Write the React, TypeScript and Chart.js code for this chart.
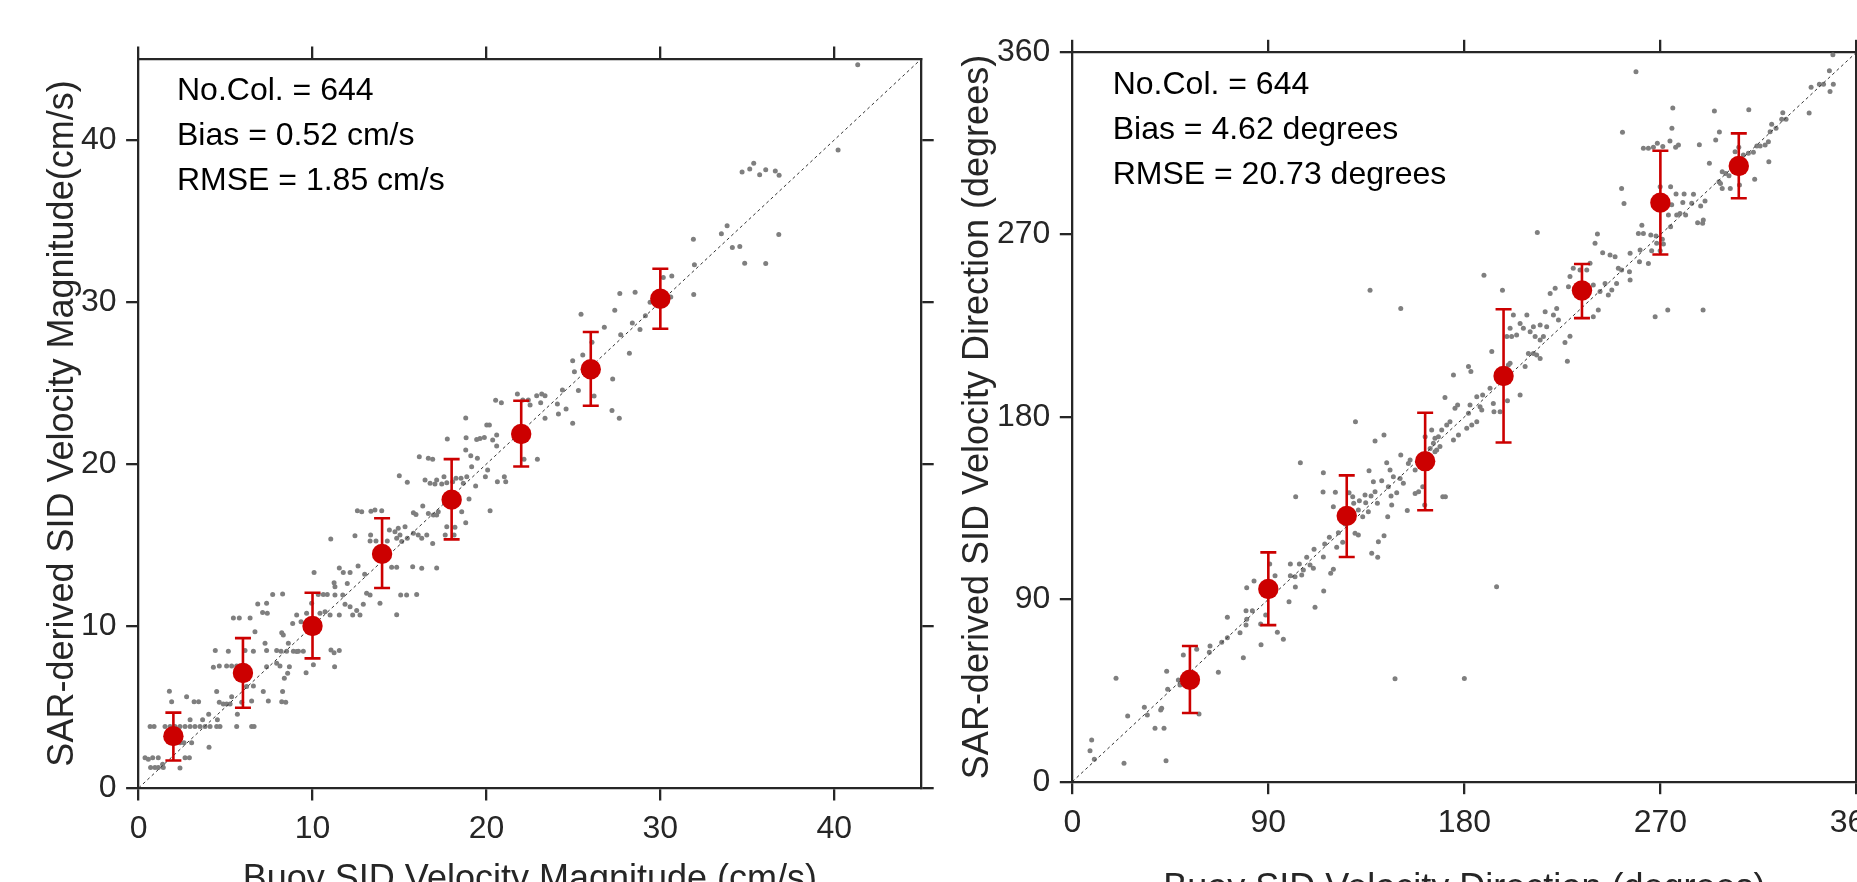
import React, { useEffect, useRef } from "react";
import { Chart, registerables } from "chart.js";

Chart.register(...registerables);

const FONT = '"Liberation Sans", Arial, Helvetica, sans-serif';
const AXIS_COLOR = "#262626";
const RED = "#CC0000";
const GRAY = "#7F7F7F";

// ---------- Panel 1: velocity magnitude ----------
const MAG_RANGE = [0, 45];
const MAG_TICKS = [0, 10, 20, 30, 40];
const MAG_X_TITLE = "Buoy SID Velocity Magnitude (cm/s)";
const MAG_Y_TITLE = "SAR-derived SID Velocity Magnitude(cm/s)";
const MAG_STATS = ["No.Col. = 644", "Bias = 0.52 cm/s", "RMSE = 1.85 cm/s"];

const MAG_BIN_X = [2, 6, 10, 14, 18, 22, 26, 30];
const MAG_BIN_MEAN = [3.2, 7.1, 10.0, 14.45, 17.8, 21.85, 25.85, 30.2];
const MAG_BIN_LOW = [1.7, 4.95, 8.0, 12.35, 15.35, 19.85, 23.6, 28.35];
const MAG_BIN_HIGH = [4.65, 9.25, 12.05, 16.65, 20.3, 23.9, 28.15, 32.05];

// [buoy, SAR] pairs
const MAG_SCATTER: number[][] = [
  [0.37,1.87],[0.56,1.77],[0.81,1.87],[1.13,1.87],[0.69,1.26],[0.94,1.26],[1.13,1.26],[1.42,1.26],[1.38,1.46],[2.38,1.23],
  [2.67,1.87],[2.92,1.87],[2.38,2.8],[2.61,2.8],[3.05,2.8],[4.05,2.51],[0.66,3.79],[0.89,3.79],[1.52,3.79],[1.81,3.79],
  [2.09,3.79],[2.38,3.79],[2.67,3.79],[2.96,3.79],[3.24,3.79],[3.53,3.79],[3.82,3.79],[4.11,3.79],[4.49,3.79],[4.68,3.79],
  [5.64,3.79],[6.5,3.79],[6.64,3.79],[2.96,4.22],[3.68,4.22],[4.03,4.55],[4.53,4.22],[1.77,5.97],[1.9,5.33],[2.76,5.64],
  [3.19,5.33],[3.45,5.33],[4.49,5.95],[4.64,5.29],[4.87,5.19],[5.06,5.19],[5.26,5.19],[5.35,5.64],[5.68,4.55],[5.93,5.29],
  [6.5,5.37],[7.17,5.95],[7.46,5.37],[8.23,5.33],[8.46,5.29],[8.28,5.95],[4.3,7.45],[4.64,7.53],[5.06,7.53],[5.35,7.53],
  [5.64,7.53],[6.06,7.53],[6.21,6.26],[6.6,6.3],[4.41,8.48],[5.16,8.44],[6.12,8.48],[6.6,8.44],[7.27,8.93],[7.36,8.48],
  [7.94,8.48],[8.19,8.44],[8.51,8.44],[8.9,8.44],[9.19,8.44],[9.47,8.44],[6.69,9.65],[8.23,9.59],[8.32,9.44],[8.61,8.93],
  [7.36,7.49],[7.94,7.7],[8.13,7.53],[8.38,6.77],[8.57,7.08],[8.67,7.49],[9.09,8.42],[9.63,7.12],[10.05,7.61],[11.06,8.52],
  [11.24,8.35],[11.54,8.48],[11.27,7.49],[5.45,10.49],[5.79,10.49],[6.41,10.49],[6.85,11.36],[7.36,11.4],[7.13,10.84],[7.4,10.78],
  [7.71,11.95],[8.28,11.98],[8.86,10.16],[9.09,10.68],[9.34,10.27],[9.66,10.78],[10.09,13.31],[9.95,11.4],[10.33,11.95],[10.62,11.95],
  [10.85,11.95],[10.43,10.78],[10.72,10.88],[11.01,10.68],[11.29,11.91],[11.54,10.68],[11.29,12.43],[11.24,12.67],[11.54,13.58],[11.77,13.31],
  [12.16,13.31],[12.0,12.63],[11.74,11.91],[11.87,11.34],[12.16,11.19],[12.31,10.68],[12.54,10.95],[12.62,13.7],[12.73,10.68],[12.92,11.34],
  [13.0,13.19],[13.11,12.02],[13.31,11.91],[13.88,11.4],[14.55,13.62],[14.84,13.62],[14.84,10.7],[15.07,11.91],[15.41,11.91],[15.99,11.95],
  [15.76,13.66],[16.28,13.56],[17.14,13.58],
  [11.05,15.37],[12.44,15.57],[12.58,17.12],[12.83,17.06],[13.36,17.08],[13.59,17.16],[13.98,17.12],[13.34,15.62],[13.31,15.25],[13.65,15.25],
  [14.3,15.25],[14.42,15.93],[14.74,15.82],[14.93,16.03],[14.84,15.41],[15.13,15.21],[15.32,16.13],[15.45,15.41],[15.03,15.62],[15.8,15.72],
  [16.08,15.62],[16.28,15.41],[16.57,15.62],[16.91,15.1],[15.8,16.99],[15.95,16.89],[16.34,17.41],[16.66,16.95],[16.95,16.85],[17.14,16.85],
  [17.23,17.06],[14.99,19.28],[15.45,18.87],[16.14,20.45],[16.66,20.35],[16.91,20.29],[16.47,19.01],[16.76,18.81],[17.04,18.77],[17.14,19.01],
  [17.43,18.77],[17.56,19.22],[17.72,18.85],[18.06,18.91],[18.25,19.12],[18.54,19.12],[18.67,18.81],[18.87,19.22],[19.0,17.84],[18.58,17.06],
  [18.81,16.38],[18.19,16.09],[17.72,16.13],[17.63,15.62],[18.14,15.62],[17.75,21.54],[18.83,21.62],[19.44,21.52],[19.63,21.58],[19.88,21.64],
  [20.36,21.48],[20.59,21.79],[20.59,21.11],[18.81,20.86],[19.1,20.51],[19.48,20.35],[19.15,19.83],[19.38,18.64],[19.94,19.22],[20.07,19.63],
  [20.21,17.12],[20.63,18.91],[21.03,19.22],[21.11,18.91],[18.81,22.84],[20.02,22.41],[20.17,22.41],[20.53,23.93],[20.86,23.78],[21.78,24.32],
  [22.09,23.95],[22.41,23.95],[22.51,23.64],[22.89,24.22],[23.18,24.32],[23.37,24.22],[23.12,23.78],[23.37,22.82],[24.08,23.7],[24.37,24.57],
  [24.58,23.4],[24.14,23.09],[24.96,22.51],[22.16,20.29],[22.93,20.29],[24.96,26.38],[25.06,25.7],[25.54,26.73],[25.29,24.53],[26.07,27.51],
  [26.19,24.2],[27.26,25.25],[27.22,23.31],[27.64,22.82],
  [41.35,44.65],[40.22,39.38],[34.7,38.02],[35.14,38.21],[35.37,38.56],[35.71,37.86],[36.06,38.17],[36.61,38.09],[36.83,37.82],[31.9,33.87],
  [33.51,34.22],[33.84,34.71],[34.14,33.37],[34.57,33.43],[34.85,32.39],[36.06,32.37],[36.81,34.16],[31.96,32.3],[31.92,30.47],[30.17,31.52],
  [30.66,31.6],[30.6,30.31],[29.41,29.98],[29.14,29.15],[28.39,28.7],[28.83,28.31],[28.55,30.6],[27.67,30.52],[27.38,29.49],[25.44,29.24],
  [26.78,28.44],[28.22,26.83],[27.72,27.98]
];

// ---------- Panel 2: velocity direction ----------
const DIR_RANGE = [0, 360];
const DIR_TICKS = [0, 90, 180, 270, 360];
const DIR_X_TITLE = "Buoy SID Velocity Direction (degrees)";
const DIR_Y_TITLE = "SAR-derived SID Velocity Direction (degrees)";
const DIR_STATS = ["No.Col. = 644", "Bias = 4.62 degrees", "RMSE = 20.73 degrees"];

const DIR_BIN_X = [54, 90, 126, 162, 198, 234, 270, 306];
const DIR_BIN_MEAN = [50.3, 95.1, 131.2, 158.2, 200.2, 242.4, 285.8, 303.9];
const DIR_BIN_LOW = [33.9, 77.3, 110.9, 134.0, 167.4, 228.8, 260.2, 288.0];
const DIR_BIN_HIGH = [67.0, 113.2, 151.2, 182.1, 233.2, 255.5, 311.4, 320.0];

const DIR_SCATTER: number[][] = [
  [8.89,20.58],[8.13,15.32],[10.12,11.04],[23.74,9.07],[43.03,10.38],[20.07,51.0],[25.42,32.43],[33.08,36.71],[34.45,32.92],[37.97,26.34],
  [42.11,26.34],[40.58,35.39],[41.03,36.21],[43.33,54.47],[43.79,45.59],[48.69,50.2],[49.45,47.73],[50.98,62.54],[57.11,65.31],[58.18,33.4],
  [63.23,66.96],[62.92,63.83],[67.06,53.96],[68.59,68.77],[71.19,71.07],[71.19,81.11],[77.0,73.54],[78.53,61.2],[79.76,77.33],[80.07,95.76],
  [79.76,84.4],[80.07,80.12],[82.67,84.4],[83.43,99.05],[86.49,77.82],[86.65,67.62],[88.79,82.27],[90.63,107.44],[93.08,101.68],[94.15,73.72],
  [96.9,70.27],[99.5,88.86],[100.12,107.44],[100.12,101.68],[102.26,101.19],[102.41,96.09],[102.56,140.67],[104.25,107.44],[104.71,157.46],[105.32,102.0],
  [106.09,104.47],[107.62,110.72],[109.15,106.94],[110.68,105.29],[110.99,114.67],[111.44,86.05],[115.27,152.53],[115.12,142.98],[115.27,110.88],[115.42,94.1],
  [115.88,117.32],[118.02,120.61],[118.64,102.84],[119.86,104.82],[119.86,135.75],[120.78,142.82],[121.39,115.66],[122.16,122.9],[124.15,118.13],[125.22,127.17],
  [127.06,142.65],[128.74,140.67],[129.2,137.38],[129.81,122.57],[131.34,121.75],[131.8,138.7],[131.34,134.09],[133.33,130.8],[134.4,141.5],[134.71,137.71],
  [135.93,133.26],[136.24,153.51],[137.16,141.01],[137.47,112.71],[138.23,148.08],[139.0,143.14],[140.22,110.72],[140.53,118.45],[140.07,137.38],[142.06,148.57],
  [143.13,121.43],[144.35,157.46],[144.81,130.8],[145.11,145.61],[145.88,153.84],[146.34,141.01],[146.64,136.57],[147.41,150.55],[148.17,50.85],[148.94,142.65],
  [136.7,242.5],[150.8,233.6],[189.0,249.9],[197.5,242.5],[213.5,271.1],[130.0,177.7],[139.0,168.1],[143.1,171.1],[241.1,270.3],[240.0,265.7],
  [243.5,261.1],[246.9,259.9],[249.2,259.1],[250.7,253.4],[249.9,245.9],[247.7,242.7],[246.1,240.2],[244.6,245.9],[242.3,241.9],[239.2,245.2],
  [237.7,255.9],[236.2,252.6],[233.1,252.6],[230.0,253.4],[228.5,249.3],[231.6,240.2],[227.8,244.3],[241.5,232.8],[239.2,229.5],[228.5,219.9],
  [226.2,216.8],[227.3,207.5],[222.4,233.6],[223.2,227.9],[220.9,230.4],[219.4,241.0],[221.7,243.5],[217.8,224.6],[217.1,232.0],[214.8,225.4],
  [214.8,218.0],[216.3,219.7],[211.7,224.6],[212.5,219.7],[210.2,222.1],[208.7,230.4],[207.1,223.8],[205.6,226.2],[202.5,230.4],[201.0,223.8],
  [204.0,220.5],[199.5,219.7],[201.7,219.7],[211.7,211.4],[213.2,210.6],[214.8,208.9],[209.4,211.4],[207.9,204.9],[205.6,190.8],[200.2,205.7],
  [201.0,206.5],[192.6,212.3],[181.9,204.9],[183.0,202.4],[175.0,200.7],[191.8,194.2],[188.4,190.8],[185.7,190.0],[187.2,185.1],[188.0,183.4],
  [185.7,177.7],[182.6,185.9],[181.9,181.8],[181.1,174.4],[183.4,176.0],[193.3,186.7],[193.6,182.6],[196.4,182.6],[199.8,188.0],[176.9,185.9],
  [175.7,184.3],[171.1,189.6],[177.3,171.1],[175.0,168.6],[171.9,176.0],[168.1,170.3],[166.5,169.5],[168.8,165.4],[173.4,177.7],[169.6,173.6],
  [165.8,167.0],[165.0,173.6],[164.3,164.5],[162.0,170.3],[167.3,163.7],[155.1,158.8],[154.3,157.1],[157.4,142.3],[159.0,143.1],[153.8,133.8],
  [170.1,140.7],[171.3,140.7],[166.5,162.9],[150.8,161.2],[160.9,145.6],[161.8,136.6],[152.0,147.3],[150.5,149.7],[157.4,153.8],
  [258.8,350.4],[275.7,332.5],[294.8,331.0],[310.6,331.7],[252.6,320.5],[275.3,322.5],[297.1,320.7],[262.2,312.6],[264.5,312.6],[266.8,313.1],
  [268.6,315.1],[271.1,313.5],[274.4,316.2],[277.0,313.1],[278.3,314.3],[287.9,314.4],[295.4,316.7],[292.5,305.2],[338.3,330.1],[349.2,358.8],
  [347.6,350.9],[349.4,344.2],[347.9,340.7],[344.9,344.2],[343.0,344.2],[339.2,342.7],[326.2,330.2],[327.7,326.9],[325.7,326.9],[323.1,322.5],
  [321.1,324.5],[320.4,320.8],[319.6,315.9],[318.1,314.3],[315.8,313.8],[314.3,313.8],[312.7,310.7],[310.4,310.2],[319.8,306.0],[313.3,297.3],
  [308.1,309.3],[304.3,310.9],[306.0,313.1],[296.9,296.1],[298.4,301.1],[300.0,300.2],[301.5,299.1],[298.4,292.8],[302.1,292.8],[306.3,294.5],
  [297.6,295.3],[269.9,293.7],[252.2,292.8],[253.3,285.4],[274.7,293.7],[277.2,290.1],[280.9,290.1],[285.2,289.9],[280.3,285.9],[284.4,285.5],
  [288.5,284.2],[290.5,286.6],[275.2,284.7],[273.7,279.7],[277.5,279.7],[279.0,280.5],[281.6,279.7],[287.1,275.9],[289.7,277.2],[289.4,275.6],
  [267.6,229.5],[273.4,232.8],[289.6,232.8],[256.1,260.8],[252.2,252.5],[260.4,256.6],[264.5,255.8],[255.8,251.7],[256.1,247.6],[260.7,262.4],
  [262.2,270.6],[261.5,274.7],[265.6,269.8],[266.0,262.1],[268.3,265.7],[270.9,267.7],[269.9,262.1],[271.4,265.4],[268.0,269.3],[274.7,273.9],
  [259.9,270.6],[180.0,50.9],[194.8,96.2]
];

type PanelSpec = {
  scatter: number[][];
  binX: number[];
  binMean: number[];
  binLow: number[];
  binHigh: number[];
  range: number[];
  ticks: number[];
  xTitle: string;
  yTitle: string;
  stats: string[];
  layout: {
    canvasX: number; canvasW: number; canvasH: number;
    leftW: number; topH: number; rightW: number; bottomH: number;
    yTitlePad: number; xTitlePad: number; textDx: number; textDy: number;
  };
};

const PANELS: PanelSpec[] = [
  {
    scatter: MAG_SCATTER, binX: MAG_BIN_X, binMean: MAG_BIN_MEAN, binLow: MAG_BIN_LOW, binHigh: MAG_BIN_HIGH,
    range: MAG_RANGE, ticks: MAG_TICKS, xTitle: MAG_X_TITLE, yTitle: MAG_Y_TITLE, stats: MAG_STATS,
    layout: { canvasX: 0, canvasW: 940, canvasH: 920, leftW: 138.6, topH: 59, rightW: 18.8, bottomH: 132,
      yTitlePad: 41.4, xTitlePad: 18.4, textDx: 38.4, textDy: 41 },
  },
  {
    scatter: DIR_SCATTER, binX: DIR_BIN_X, binMean: DIR_BIN_MEAN, binLow: DIR_BIN_LOW, binHigh: DIR_BIN_HIGH,
    range: DIR_RANGE, ticks: DIR_TICKS, xTitle: DIR_X_TITLE, yTitle: DIR_Y_TITLE, stats: DIR_STATS,
    layout: { canvasX: 940, canvasW: 960, canvasH: 920, leftW: 132.3, topH: 52.3, rightW: 43.6, bottomH: 138.3,
      yTitlePad: 16.4, xTitlePad: 9.4, textDx: 40.4, textDy: 42 },
  },
];

const overlayPlugin = {
  id: "errorBarsAndStats",
  afterDatasetsDraw(chart: any, _args: any, opts: any) {
    const { ctx, chartArea } = chart;
    const xs = chart.scales.x;
    const ys = chart.scales.y;
    ctx.save();
    ctx.strokeStyle = RED;
    ctx.lineWidth = 2.6;
    const cap = 8;
    opts.binX.forEach((bx: number, i: number) => {
      const px = xs.getPixelForValue(bx);
      const pl = ys.getPixelForValue(opts.binLow[i]);
      const ph = ys.getPixelForValue(opts.binHigh[i]);
      ctx.beginPath();
      ctx.moveTo(px, pl);
      ctx.lineTo(px, ph);
      ctx.moveTo(px - cap, pl);
      ctx.lineTo(px + cap, pl);
      ctx.moveTo(px - cap, ph);
      ctx.lineTo(px + cap, ph);
      ctx.stroke();
    });
    ctx.fillStyle = RED;
    opts.binX.forEach((bx: number, i: number) => {
      ctx.beginPath();
      ctx.arc(xs.getPixelForValue(bx), ys.getPixelForValue(opts.binMean[i]), 10.2, 0, Math.PI * 2);
      ctx.fill();
    });
    ctx.fillStyle = "#000";
    ctx.font = `32px ${FONT}`;
    ctx.textBaseline = "alphabetic";
    ctx.textAlign = "left";
    opts.stats.forEach((s: string, i: number) => {
      ctx.fillText(s, chartArea.left + opts.textDx, chartArea.top + opts.textDy + i * 45);
    });
    ctx.restore();
  },
};

function axis(position: string, range: number[], ticks: number[], size: number, showLabels: boolean, title: string | null, titlePad: any) {
  const horizontal = position === "top" || position === "bottom";
  return {
    type: "linear",
    position,
    min: range[0],
    max: range[1],
    afterBuildTicks: (s: any) => {
      s.ticks = ticks.map((v) => ({ value: v }));
    },
    afterFit: (s: any) => {
      if (horizontal) s.height = size;
      else s.width = size;
    },
    grid: { display: true, drawOnChartArea: false, drawTicks: true, tickLength: 12.5, color: AXIS_COLOR, lineWidth: 2.3 },
    border: { display: true, color: AXIS_COLOR, width: 2.3 },
    ticks: {
      display: showLabels,
      font: { family: FONT, size: 32, lineHeight: 1 },
      color: AXIS_COLOR,
      padding: horizontal ? 13 : 9.5,
      maxRotation: 0,
      minRotation: 0,
      autoSkip: false,
    },
    title: title
      ? { display: true, text: title, color: AXIS_COLOR, font: { family: FONT, size: 36, lineHeight: 1.2 }, padding: titlePad }
      : { display: false },
  };
}

function ScatterPanel({ panel }: { panel: PanelSpec }) {
  const ref = useRef<HTMLCanvasElement>(null);
  useEffect(() => {
    const L = panel.layout;
    const chart = new Chart(ref.current as HTMLCanvasElement, {
      type: "scatter",
      data: {
        datasets: [
          {
            label: "diagonal",
            data: [
              { x: panel.range[0], y: panel.range[0] },
              { x: panel.range[1], y: panel.range[1] },
            ],
            showLine: true,
            borderColor: "#333333",
            borderWidth: 1,
            borderDash: [3, 3],
            pointRadius: 0,
            order: 1,
          },
          {
            label: "collocations",
            data: panel.scatter.map((p) => ({ x: p[0], y: p[1] })),
            pointRadius: 2.5,
            pointBackgroundColor: GRAY,
            pointBorderWidth: 0,
            borderWidth: 0,
            order: 2,
          },
        ],
      } as any,
      options: {
        responsive: false,
        animation: false,
        devicePixelRatio: 1,
        layout: { padding: 0 },
        events: [],
        plugins: {
          legend: { display: false },
          tooltip: { enabled: false },
          errorBarsAndStats: {
            binX: panel.binX,
            binMean: panel.binMean,
            binLow: panel.binLow,
            binHigh: panel.binHigh,
            stats: panel.stats,
            textDx: L.textDx,
            textDy: L.textDy,
          },
        } as any,
        scales: {
          x: axis("bottom", panel.range, panel.ticks, L.bottomH, true, panel.xTitle, { top: 0, bottom: L.xTitlePad }),
          x2: axis("top", panel.range, panel.ticks, L.topH, false, null, 0),
          y: axis("left", panel.range, panel.ticks, L.leftW, true, panel.yTitle, { top: L.yTitlePad, bottom: 0 }),
          y2: axis("right", panel.range, panel.ticks, L.rightW, false, null, 0),
        } as any,
      },
      plugins: [overlayPlugin as any],
    });
    return () => chart.destroy();
  }, [panel]);
  const L = panel.layout;
  return (
    <canvas
      ref={ref}
      width={L.canvasW}
      height={L.canvasH}
      style={{ position: "absolute", left: L.canvasX, top: 0, width: L.canvasW, height: L.canvasH }}
    />
  );
}

export default function App() {
  return (
    <div
      style={{
        position: "fixed",
        left: 0,
        top: 0,
        width: 1857,
        height: 882,
        overflow: "hidden",
        background: "#ffffff",
      }}
    >
      {PANELS.map((p, i) => (
        <ScatterPanel key={i} panel={p} />
      ))}
    </div>
  );
}
